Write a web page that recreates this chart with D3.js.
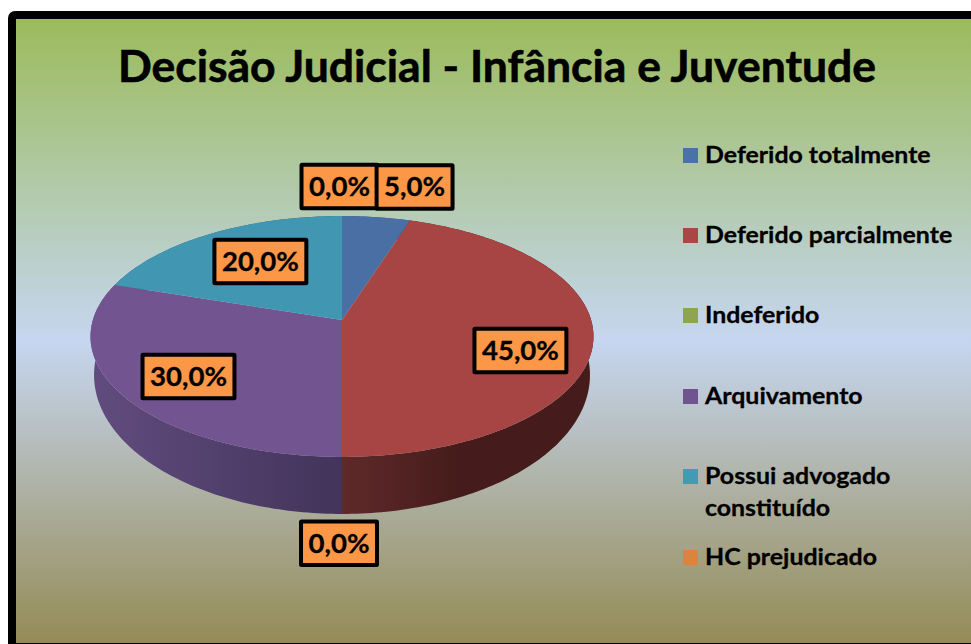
<!DOCTYPE html>
<html><head><meta charset="utf-8">
<script src="https://cdn.jsdelivr.net/npm/d3@7"></script>
<style>html,body{margin:0;padding:0;background:#fff;overflow:hidden}svg{display:block}text{font-family:Lato,"Open Sans",sans-serif;font-weight:700;fill:#000;stroke:#000}</style>
</head><body><div id="c"></div>
<script>
const titleText = "Decisão Judicial - Infância e Juventude";
const categories = ["Deferido totalmente","Deferido parcialmente","Indeferido","Arquivamento","Possui advogado constituído","HC prejudicado"];
const values = [5,45,0,30,20,0];
const colors = ["#4a6fa5","#a74545","#8ea54e","#725590","#4197b1","#db843d"];
const legendColors = ["#4a71a8","#a94646","#8ca54e","#70548f","#429bb5","#dc843f"];
const sideLight = ["#3a5a85","#60292a","#6a8040","#624c7f","#2f7488","#a8622c"];
const sideDark  = ["#2a4060","#451c1b","#4f602f","#42345a","#225664","#7c4820"];

const W=971,H=644;
const svg=d3.select("#c").append("svg").attr("width",W).attr("height",H);
const defs=svg.append("defs");

const bg=defs.append("linearGradient").attr("id","bg").attr("x1",0).attr("y1",0).attr("x2",0).attr("y2",1);
[[0,"#9bbb59"],[0.515,"#c6d6f0"],[1,"#948a54"]].forEach(s=>bg.append("stop").attr("offset",s[0]).attr("stop-color",s[1]));

svg.append("rect").attr("x",12).attr("y",15).attr("width",W+40).attr("height",632)
  .attr("rx",3).attr("fill","url(#bg)").attr("stroke","#000").attr("stroke-width",8);

function stretched(x,y,str,size,sx,anchor,weight){
  return svg.append("text").attr("transform",`translate(${x},${y}) scale(${sx},1)`)
    .attr("text-anchor",anchor).attr("font-size",size).attr("stroke-width",weight).text(str);
}
stretched(497,81.5,titleText,43,1.035,"middle",0.6);

// perspective projection of the pie plane
const cx=342, cy=320, p=0.137, A=118.2, B=249.1;
function project(theta,r){
  const u=r*Math.sin(theta), w=r*Math.cos(theta), d=1+p*w;
  return [cx+B*u/d, cy-A*w/d];
}
// lower rim: same angular parameter on a slightly different ellipse lower down
const topC=336.5, topRx=251.5, topRy=120.5, botC=375, botRx=248, botRy=139;
function rim(theta){
  const q=project(theta,1);
  return [cx+(q[0]-cx)*botRx/topRx, botC+(q[1]-topC)*botRy/topRy];
}
const pie=d3.pie().sort(null).value(d=>d)(values);
const line=d3.line();
function samples(a0,a1){
  const n=Math.max(2,Math.ceil((a1-a0)/(Math.PI/180)));
  return d3.range(n+1).map(i=>a0+(a1-a0)*i/n);
}
const visible=pie.filter(s=>s.endAngle>s.startAngle);

visible.forEach(s=>{
  const i=s.index, ts=samples(s.startAngle,s.endAngle);
  const xs=ts.map(t=>project(t,1)[0]).concat(ts.map(t=>rim(t)[0]));
  const g=defs.append("linearGradient").attr("id","side"+i).attr("gradientUnits","userSpaceOnUse")
    .attr("y1",0).attr("y2",0);
  if(s.startAngle<Math.PI){ g.attr("x1",cx).attr("x2",cx+115); }
  else { g.attr("x1",d3.min(xs)).attr("x2",cx); }
  g.append("stop").attr("offset",0).attr("stop-color",sideLight[i]);
  g.append("stop").attr("offset",1).attr("stop-color",sideDark[i]);
  const pts=ts.map(t=>project(t,1)).concat(ts.slice().reverse().map(t=>rim(t)));
  svg.append("path").attr("d",line(pts)+"Z").attr("fill","url(#side"+i+")");
});
visible.forEach(s=>{
  const pts=[[cx,cy]].concat(samples(s.startAngle,s.endAngle).map(t=>project(t,1)));
  svg.append("path").attr("d",line(pts)+"Z").attr("fill",colors[s.index]);
});

// data labels
const fmt=d3.formatLocale({decimal:",",thousands:".",grouping:[3],currency:["",""]}).format(".1f");
const labelPlace=[
  {r:1.3,dx:29.5,dy:-4},{r:.72,dx:-1.5,dy:17},{r:1.5,dx:-3,dy:0},
  {r:.7,dx:-4,dy:5},{r:.7,dx:13.5,dy:3.5},{r:1.3,dx:-2.5,dy:-3}];
const labelSize=27, labelStretch=1.02, bh=43.5;
const order=[5,0,2,3,4,1];
const placed=order.map(i=>{
  const s=pie[i], mid=(s.startAngle+s.endAngle)/2, q=project(mid,labelPlace[i].r);
  return {i,x:q[0]+labelPlace[i].dx,y:q[1]+labelPlace[i].dy};
});
const boxes=placed.map(d=>svg.append("rect").attr("fill","#fb9746").attr("stroke","#000").attr("stroke-width",4).attr("rx",0.5));
placed.forEach((d,k)=>{
  const t=stretched(d.x,d.y+9.5,fmt(values[d.i])+"%",labelSize,labelStretch,"middle",0.3);
  const w=t.node().getComputedTextLength()*labelStretch+15;
  boxes[k].attr("x",d.x-w/2).attr("y",d.y-bh/2).attr("width",w).attr("height",bh);
});

// legend
const legendRows=[155.5,235.5,315.5,396.5,476.5,557.5];
const legendLines=[["Deferido totalmente"],["Deferido parcialmente"],["Indeferido"],["Arquivamento"],["Possui advogado","constituído"],["HC prejudicado"]];
categories.forEach((c,i)=>{
  const y=legendRows[i];
  svg.append("rect").attr("x",683).attr("y",y-7.5).attr("width",15).attr("height",15).attr("fill",legendColors[i]);
  legendLines[i].forEach((t,j)=>{
    stretched(705,y+7.3+j*32,t,23.5,1.06,"start",0.3);
  });
});
</script></body></html>
